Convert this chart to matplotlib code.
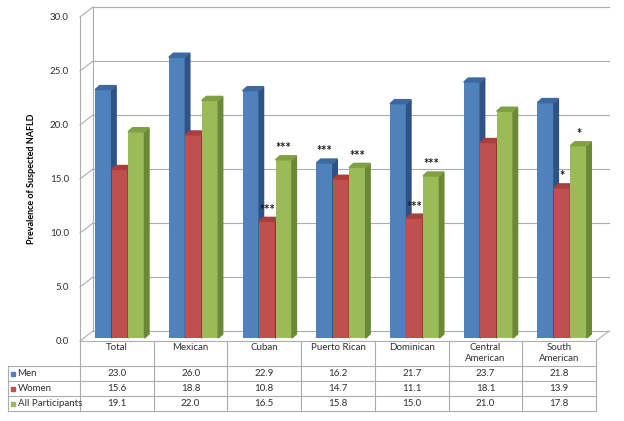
import matplotlib
matplotlib.use("Agg")
from matplotlib import pyplot as plt
from matplotlib.patches import Polygon

plt.rcParams['font.family'] = ['Lato', 'DejaVu Sans']

categories = ['Total', 'Mexican', 'Cuban', 'Puerto Rican', 'Dominican',
              'Central\nAmerican', 'South\nAmerican']
men = [23.0, 26.0, 22.9, 16.2, 21.7, 23.7, 21.8]
women = [15.6, 18.8, 10.8, 14.7, 11.1, 18.1, 13.9]
all_participants = [19.1, 22.0, 16.5, 15.8, 15.0, 21.0, 17.8]
series_names = ['Men', 'Women', 'All Participants']
sig_men = ['', '', '', '***', '', '', '']
sig_women = ['', '', '***', '', '***', '', '*']
sig_all = ['', '', '***', '***', '***', '', '*']
yticks = [0, 5, 10, 15, 20, 25, 30]

front = ['#4F81BD', '#C0504D', '#9BBB59']
side = ['#2E5283', '#8B3634', '#6A8836']
top = ['#3D69A3', '#A7403D', '#7FA043']
grid = '#ADADAD'
txt = '#303030'

W, H = 624, 421
fig = plt.figure(figsize=(W / 100, H / 100), dpi=100)

# plot area in pixels (front plane)
px_l, px_r, px_t, px_b = 80, 596, 17, 341
ax = fig.add_axes([px_l / W, (H - px_b) / H, (px_r - px_l) / W, (px_b - px_t) / H])
n = len(categories)
ax.set_xlim(-0.5, n - 0.5)
ax.set_ylim(0, 30)
for s in ax.spines.values():
    s.set_visible(False)
ax.set_xticks([])
ax.set_yticks(yticks)
ax.set_yticklabels([f"{t:.1f}" for t in yticks], fontsize=7, color=txt)
ax.tick_params(axis='y', length=0, pad=8)
ax.patch.set_visible(False)

xs = (px_r - px_l) / n      # px per category
ys = (px_b - px_t) / 30     # px per unit
DX, DY = 13 / xs, 10 / ys   # back wall offset
bdx, bdy = 3 / xs, 3 / ys   # bar placement offset
ddx, ddy = 4.5 / xs, 4 / ys # bar depth

# walls and grid
for t in yticks:
    ax.plot([-0.5 + DX, n - 0.5 + DX], [t + DY, t + DY], color=grid, lw=0.8, clip_on=False, zorder=0)
    ax.plot([-0.5, -0.5 + DX], [t, t + DY], color=grid, lw=0.8, clip_on=False, zorder=0)
ax.plot([-0.5 + DX, -0.5 + DX], [DY, 30 + DY], color=grid, lw=0.8, clip_on=False, zorder=0)
ax.plot([-0.5, -0.5], [0, 30], color=grid, lw=0.8, clip_on=False, zorder=0)
ax.plot([n - 0.5, n - 0.5 + DX], [0, DY], color=grid, lw=0.8, clip_on=False, zorder=0)

# bars
bw = 0.223
data = [men, women, all_participants]
sigs = [sig_men, sig_women, sig_all]
z = 2
for i in range(n):
    for k in range(3):
        x0 = i + (k - 1.5) * bw + bdx
        h = data[k][i] + bdy
        ax.bar(x0, data[k][i], width=bw, bottom=bdy, align='edge', color=front[k], zorder=z)
        ax.add_patch(Polygon([(x0 + bw, bdy), (x0 + bw + ddx, bdy + ddy),
                              (x0 + bw + ddx, h + ddy), (x0 + bw, h)],
                             closed=True, color=side[k], zorder=z))
        ax.add_patch(Polygon([(x0, h), (x0 + ddx, h + ddy),
                              (x0 + bw + ddx, h + ddy), (x0 + bw, h)],
                             closed=True, color=top[k], zorder=z))
        z += 1
for i in range(n):
    for k in range(3):
        if sigs[k][i]:
            ax.text(i + (k - 1) * bw + bdx, data[k][i] + bdy + 0.7, sigs[k][i],
                    ha='center', va='baseline', fontsize=9, fontweight='bold',
                    color='#1A1A1A', zorder=50)

ax.set_ylabel('Prevalence of Suspected NAFLD', fontsize=6.5, fontweight='bold',
              color='black', labelpad=10)

# data table
ov = fig.add_axes([0, 0, 1, 1])
ov.set_xlim(0, W)
ov.set_ylim(H, 0)
ov.axis('off')
ov.set_zorder(-1)
tcol = '#ADADAD'
rows_y = [366, 381, 396, 411]
tab_l = 8
edges = [px_l + xs * i for i in range(n + 1)]
ov.plot([px_l, px_r], [px_b, px_b], color=tcol, lw=0.8)
for y in rows_y:
    ov.plot([tab_l, px_r], [y, y], color=tcol, lw=0.8)
for x in edges:
    ov.plot([x, x], [px_b, rows_y[-1]], color=tcol, lw=0.8)
ov.plot([tab_l, tab_l], [rows_y[0], rows_y[-1]], color=tcol, lw=0.8)

for i, name in enumerate(categories):
    ov.text((edges[i] + edges[i + 1]) / 2, 343.5, name, ha='center', va='top',
            fontsize=7, color=txt, linespacing=1.25)
for k in range(3):
    yc = (rows_y[k] + rows_y[k + 1]) / 2
    ov.plot([13], [yc], marker='s', ms=3.5, color=front[k], lw=0)
    ov.text(17.5, yc, series_names[k], ha='left', va='center', fontsize=7, color=txt)
    for i in range(n):
        ov.text((edges[i] + edges[i + 1]) / 2, yc, f"{data[k][i]:.1f}", ha='center',
                va='center', fontsize=7, color=txt)

fig.savefig('out.png', dpi=100)
